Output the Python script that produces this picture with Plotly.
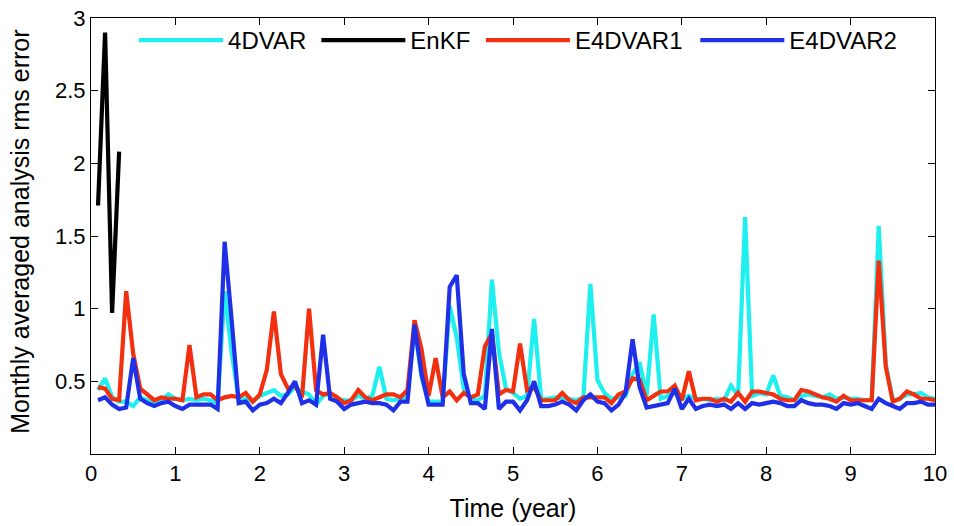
import plotly.graph_objects as go

# Monthly averaged analysis rms error over a 10-year assimilation run
months = list(range(1, 121))
time_years = [m / 12 for m in months]

fourdvar = [
    0.44, 0.52, 0.39, 0.36, 0.36, 0.33, 0.39, 0.37, 0.36, 0.37, 0.41, 0.38,
    0.37, 0.38, 0.37, 0.38, 0.37, 0.35, 1.12, 0.70, 0.37, 0.38, 0.36, 0.40,
    0.42, 0.44, 0.40, 0.41, 0.46, 0.43, 0.41, 0.34, 0.40, 0.42, 0.38, 0.37,
    0.37, 0.40, 0.38, 0.40, 0.60, 0.38, 0.37, 0.38, 0.40, 0.88, 0.53, 0.36,
    0.36, 0.36, 1.02, 0.80, 0.45, 0.38, 0.37, 0.40, 1.20, 0.70, 0.45, 0.42,
    0.38, 0.40, 0.93, 0.38, 0.38, 0.39, 0.38, 0.38, 0.37, 0.39, 1.17, 0.51,
    0.42, 0.38, 0.39, 0.40, 0.55, 0.63, 0.40, 0.96, 0.38, 0.40, 0.42, 0.38,
    0.40, 0.38, 0.38, 0.37, 0.38, 0.37, 0.47, 0.40, 1.63, 0.40, 0.42, 0.41,
    0.54, 0.40, 0.39, 0.37, 0.40, 0.41, 0.40, 0.39, 0.41, 0.38, 0.39, 0.38,
    0.38, 0.37, 0.37, 1.57, 0.62, 0.37, 0.38, 0.41, 0.41, 0.42, 0.39, 0.38,
]

# EnKF diverges after the first few months
enkf_months = [1, 2, 3, 4]
enkf = [1.71, 2.90, 0.97, 2.08]

e4dvar1 = [
    0.46, 0.45, 0.38, 0.37, 1.12, 0.69, 0.45, 0.41, 0.37, 0.39, 0.38, 0.38,
    0.37, 0.75, 0.39, 0.41, 0.41, 0.37, 0.39, 0.40, 0.39, 0.42, 0.36, 0.41,
    0.58, 0.98, 0.55, 0.45, 0.47, 0.39, 1.00, 0.44, 0.41, 0.42, 0.39, 0.35,
    0.37, 0.44, 0.39, 0.37, 0.39, 0.41, 0.41, 0.39, 0.44, 0.92, 0.72, 0.40,
    0.66, 0.39, 0.43, 0.37, 0.42, 0.39, 0.41, 0.74, 0.83, 0.41, 0.44, 0.43,
    0.76, 0.44, 0.46, 0.37, 0.37, 0.37, 0.42, 0.37, 0.35, 0.39, 0.39, 0.39,
    0.39, 0.35, 0.41, 0.43, 0.52, 0.51, 0.37, 0.40, 0.43, 0.43, 0.47, 0.37,
    0.57, 0.37, 0.38, 0.38, 0.36, 0.38, 0.36, 0.42, 0.36, 0.43, 0.43, 0.42,
    0.41, 0.38, 0.37, 0.37, 0.44, 0.43, 0.41, 0.39, 0.38, 0.36, 0.40, 0.37,
    0.37, 0.37, 0.37, 1.33, 0.60, 0.36, 0.38, 0.43, 0.41, 0.38, 0.38, 0.37,
]

e4dvar2 = [
    0.37, 0.39, 0.34, 0.31, 0.32, 0.66, 0.38, 0.35, 0.33, 0.35, 0.36, 0.33,
    0.31, 0.34, 0.34, 0.34, 0.34, 0.31, 1.46, 0.92, 0.35, 0.36, 0.30, 0.34,
    0.35, 0.38, 0.35, 0.42, 0.50, 0.35, 0.37, 0.34, 0.82, 0.38, 0.36, 0.31,
    0.34, 0.35, 0.36, 0.35, 0.35, 0.34, 0.30, 0.36, 0.36, 0.89, 0.55, 0.34,
    0.34, 0.34, 1.15, 1.23, 0.55, 0.35, 0.35, 0.31, 0.86, 0.31, 0.36, 0.36,
    0.30, 0.37, 0.50, 0.33, 0.33, 0.34, 0.36, 0.34, 0.30, 0.37, 0.41, 0.36,
    0.35, 0.30, 0.34, 0.42, 0.79, 0.46, 0.32, 0.33, 0.34, 0.35, 0.45, 0.31,
    0.38, 0.31, 0.33, 0.34, 0.33, 0.34, 0.31, 0.35, 0.31, 0.35, 0.34, 0.35,
    0.36, 0.35, 0.33, 0.33, 0.37, 0.35, 0.34, 0.34, 0.33, 0.31, 0.35, 0.34,
    0.35, 0.33, 0.31, 0.38, 0.35, 0.33, 0.31, 0.35, 0.35, 0.36, 0.34, 0.34,
]

x_ticks = list(range(0, 11))
y_ticks = [0.5, 1, 1.5, 2, 2.5, 3]
y_tick_labels = ["0.5", "1", "1.5", "2", "2.5", "3"]

FONT = "Liberation Sans, Arial, Helvetica, sans-serif"
LW = 4.2

series = [
    ("4DVAR", time_years, fourdvar, "#1EEFEF", "legend", 0.051),
    ("EnKF", [m / 12 for m in enkf_months], enkf, "#000000", "legend2", 0.267),
    ("E4DVAR1", time_years, e4dvar1, "#F2300F", "legend3", 0.462),
    ("E4DVAR2", time_years, e4dvar2, "#1F30E6", "legend4", 0.716),
]

fig = go.Figure()
legend_layouts = {}
for name, xs, ys, color, leg, lx in series:
    fig.add_trace(go.Scatter(x=xs, y=ys, mode="lines", name=name, legend=leg,
                             line=dict(color=color, width=LW)))
    legend_layouts[leg] = dict(
        x=lx, y=1.0, xanchor="left", yanchor="top", orientation="h",
        bgcolor="rgba(0,0,0,0)", itemwidth=84,
        font=dict(family=FONT, size=24, color="#000000"),
    )

axis_common = dict(
    showgrid=False, zeroline=False, showline=True, linecolor="#000000",
    linewidth=1, mirror="allticks", ticks="inside", ticklen=7,
    tickcolor="#000000", automargin=False,
    tickfont=dict(family=FONT, size=22, color="#000000"),
)

fig.update_layout(
    width=954, height=526,
    margin=dict(l=91, r=19, t=18, b=72),
    paper_bgcolor="#FFFFFF", plot_bgcolor="#FFFFFF",
    font=dict(family=FONT, size=22, color="#000000"),
    xaxis=dict(range=[0, 10], tickvals=x_ticks,
               title=dict(text="Time (year)", standoff=14,
                          font=dict(family=FONT, size=25)),
               **axis_common),
    yaxis=dict(range=[0, 3], tickvals=y_ticks, ticktext=y_tick_labels,
               **axis_common),
    annotations=[dict(
        text="Monthly averaged analysis rms error", textangle=-90,
        xref="paper", yref="paper", x=-0.084, y=0.51,
        xanchor="center", yanchor="middle", showarrow=False,
        font=dict(family=FONT, size=25, color="#000000"),
    )],
    showlegend=True,
    **legend_layouts,
)

fig.write_html("out.html")
